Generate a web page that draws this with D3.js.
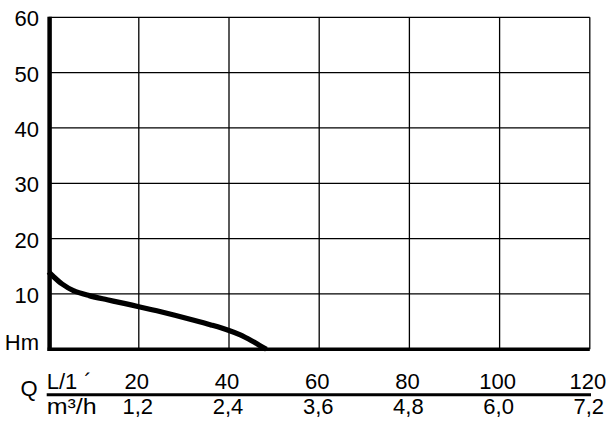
<!DOCTYPE html>
<html><head><meta charset="utf-8">
<script src="https://cdn.jsdelivr.net/npm/d3@7"></script>
<style>
html,body{margin:0;padding:0;background:#fff;}
svg{display:block;font-family:"Liberation Sans",Arial,Helvetica,sans-serif;}
</style></head>
<body>
<svg id="chart" width="613" height="434"></svg>
<script>
// Flow Q in L/min and head H in m
const flowLpm = [0, 1, 3, 5.5, 9, 13, 17, 20, 24, 28, 32, 36, 40, 42.5, 45, 47, 48.3];
const headM   = [14.0, 13.2, 11.8, 10.6, 9.7, 8.95, 8.25, 7.7, 6.95, 6.15, 5.3, 4.4, 3.4, 2.6, 1.55, 0.6, 0];
const yTicks = [10, 20, 30, 40, 50, 60];
const xTicks = [20, 40, 60, 80, 100, 120];
const xTickLabelsM3h = ["1,2", "2,4", "3,6", "4,8", "6,0", "7,2"];
const yUnitLabel = "Hm";
const qLabel = "Q";
const lpmLabel = "L/1";
const lpmMark = "´";
const m3hLabel = "m³/h";

const svg = d3.select("#chart");
const x = d3.scaleLinear().domain([0, 120]).range([48.6, 589.8]);
const y = d3.scaleLinear().domain([0, 60]).range([349.3, 17.3]);
const fs = 22;

// grid
const grid = svg.append("g").attr("stroke", "#000").attr("stroke-width", 1.3);
grid.selectAll("line.v").data(xTicks).enter().append("line")
  .attr("x1", d => x(d)).attr("x2", d => x(d))
  .attr("y1", y(60)).attr("y2", y(0));
grid.selectAll("line.h").data(yTicks).enter().append("line")
  .attr("x1", x(0)).attr("x2", x(120))
  .attr("y1", d => y(d)).attr("y2", d => y(d));

// axes (thick)
svg.append("line").attr("x1", x(0) + 1).attr("x2", x(0) + 1)
  .attr("y1", y(60) - 0.5).attr("y2", y(0) + 1.8)
  .attr("stroke", "#000").attr("stroke-width", 4.5);
svg.append("line").attr("x1", x(0) - 1).attr("x2", x(120))
  .attr("y1", y(0)).attr("y2", y(0))
  .attr("stroke", "#000").attr("stroke-width", 3.6);

// curve
const pts = flowLpm.map((q, i) => [q, headM[i]]);
svg.append("path").datum(pts)
  .attr("fill", "none").attr("stroke", "#000").attr("stroke-width", 5.2)
  .attr("d", d3.line().x(d => x(d[0])).y(d => y(d[1])).curve(d3.curveCatmullRom.alpha(0.5)));

// y tick labels
svg.selectAll("text.yl").data(yTicks).enter().append("text")
  .attr("x", 39).attr("y", d => y(d) + 9)
  .attr("text-anchor", "end").attr("font-size", fs).text(d => d);
svg.append("text").attr("x", 39).attr("y", y(0) + 0.8)
  .attr("text-anchor", "end").attr("font-size", fs).text(yUnitLabel);

// bottom Q scale
svg.append("line").attr("x1", 46.7).attr("x2", 591)
  .attr("y1", 394.7).attr("y2", 394.7)
  .attr("stroke", "#000").attr("stroke-width", 3);
svg.append("text").attr("x", 20.5).attr("y", 396)
  .attr("font-size", fs).text(qLabel);
const lp = svg.append("text").attr("x", 46.7).attr("y", 389).attr("font-size", fs);
lp.append("tspan").text(lpmLabel);
lp.append("tspan").attr("dx", 7).text(lpmMark);
svg.append("text").attr("x", 46.7).attr("y", 413.5)
  .attr("font-size", fs).attr("textLength", 50).attr("lengthAdjust", "spacingAndGlyphs").text(m3hLabel);
svg.selectAll("text.xl").data(xTicks).enter().append("text")
  .attr("x", d => x(d) - 2).attr("y", 389)
  .attr("text-anchor", "middle").attr("font-size", fs).text(d => d);
svg.selectAll("text.xm").data(xTicks).enter().append("text")
  .attr("x", (d, i) => x(d) - 1).attr("y", 413.5)
  .attr("text-anchor", "middle").attr("font-size", fs).text((d, i) => xTickLabelsM3h[i]);
</script>
</body></html>
